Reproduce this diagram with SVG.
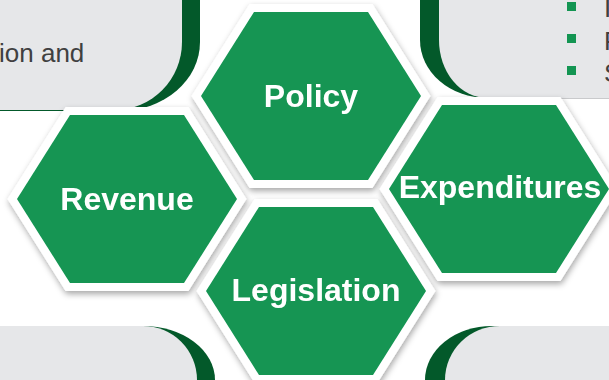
<svg xmlns="http://www.w3.org/2000/svg" width="609" height="380" viewBox="0 0 609 380">
  <defs>
    <style>
      .panel { fill: #e6e7e9; }
      .band { fill: #03592a; }
      .hex { fill: #139552; stroke: #ffffff; stroke-width: 16; stroke-linejoin: miter; paint-order: stroke fill; }
      .label { font-family: "Liberation Sans", Arial, sans-serif; font-weight: bold; font-size: 32px; fill: #ffffff; text-anchor: middle; }
      .body { font-family: "Liberation Sans", Arial, sans-serif; font-size: 26px; fill: #404040; }
      .bullet { fill: #139552; }
    </style>
    <filter id="soft" x="-20%" y="-20%" width="140%" height="140%">
      <feDropShadow dx="1" dy="3" stdDeviation="3" flood-color="#000000" flood-opacity="0.35"/>
    </filter>
    <!-- hexagon centred on the origin -->
    <polygon id="hexShape" points="-57,-84 57,-84 110,0 57,84 -57,84 -110,0"/>
  </defs>

  <!-- background panels -->
  <g id="panel-top-left">
    <path class="band" d="M0,0 H200 V42 A80,69 0 0 1 120,111 H0 Z"/>
    <path class="panel" d="M0,0 H182 V42 A67,68 0 0 1 115,110 H0 Z"/>
    <text class="body" x="-1" y="62">ion and</text>
  </g>
  <g id="panel-top-right">
    <rect x="470" y="97" width="139" height="2" fill="#c9cacc"/>
    <path class="band" d="M609,0 H420 V40 A67,58 0 0 0 487,98 H609 Z"/>
    <path class="panel" d="M609,0 H439 V40 A48,58 0 0 0 487,98 H609 Z"/>
    <rect class="bullet" x="567" y="2" width="9" height="9"/>
    <rect class="bullet" x="567" y="34" width="9" height="9"/>
    <rect class="bullet" x="567" y="66" width="9" height="9"/>
    <text class="body" x="604" y="17">I</text>
    <text class="body" x="604" y="50">P</text>
    <text class="body" x="604" y="82">S</text>
  </g>
  <g id="panel-bottom-left">
    <path class="band" d="M0,380 V326 H143 A72,54 0 0 1 215,380 Z"/>
    <path class="panel" d="M0,380 V326 H143 A54,54 0 0 1 197,380 Z"/>
  </g>
  <g id="panel-bottom-right">
    <path class="band" d="M609,380 V326 H492 A67,54 0 0 0 425,380 Z"/>
    <path class="panel" d="M609,380 V326 H500 A55,54 0 0 0 445,380 Z"/>
  </g>

  <!-- hexagon nodes -->
  <g id="node-policy" filter="url(#soft)">
    <use href="#hexShape" class="hex" x="311" y="96"/>
    <text class="label" x="311" y="107">Policy</text>
  </g>
  <g id="node-revenue" filter="url(#soft)">
    <use href="#hexShape" class="hex" x="127" y="199"/>
    <text class="label" x="127" y="210">Revenue</text>
  </g>
  <g id="node-expenditures" filter="url(#soft)">
    <use href="#hexShape" class="hex" x="499" y="189"/>
    <text class="label" x="500" y="198">Expenditures</text>
  </g>
  <g id="node-legislation" filter="url(#soft)">
    <use href="#hexShape" class="hex" x="316" y="291"/>
    <text class="label" x="316" y="301">Legislation</text>
  </g>

  <g id="connectors"></g>
</svg>
